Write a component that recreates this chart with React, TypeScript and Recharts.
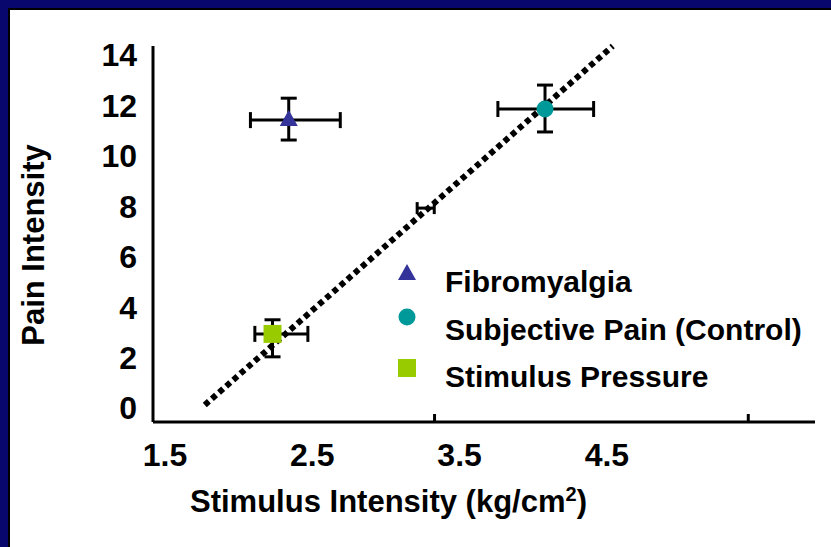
import React from "react";
import { ScatterChart, Scatter, XAxis, YAxis, ErrorBar } from "recharts";

const FONT = '"Liberation Sans", Arial, sans-serif';

// axis ticks
const X_LABEL_TICKS = [1.5, 2.5, 3.5, 4.5];
const X_MARK_TICKS = [3.33, 5.46];
const Y_TICKS = [0, 2, 4, 6, 8, 10, 12, 14];

// series (ex / ey = [low, high] error)
const fibromyalgia = [{ x: 2.34, y: 11.42, ex: [0.26, 0.35], ey: [0.79, 0.87] }];
const subjectivePain = [{ x: 4.08, y: 11.86, ex: [0.32, 0.33], ey: [0.91, 0.95] }];
const stimulusPressure = [{ x: 2.23, y: 2.94, ex: [0.12, 0.24], ey: [0.91, 0.56] }];
const strayBar = [{ x: 3.27, y: 7.93, ex: 0.058 }];
const trend = [
  { x: 1.77, y: 0.12 },
  { x: 4.54, y: 14.36 },
];

const SERIES = [
  { name: "Fibromyalgia", kind: "triangle", color: "#333399" },
  { name: "Subjective Pain (Control)", kind: "circle", color: "#009999" },
  { name: "Stimulus Pressure", kind: "square", color: "#99cc00" },
];
const LEGEND_MARK_DY = [16, 11, 15];

function Marker({ kind, color, cx, cy }: { kind: string; color: string; cx: number; cy: number }) {
  if (kind === "triangle") {
    return <polygon points={`${cx},${cy - 10} ${cx + 9},${cy + 6} ${cx - 9},${cy + 6}`} fill={color} />;
  }
  if (kind === "circle") return <circle cx={cx} cy={cy} r={8.5} fill={color} />;
  return <rect x={cx - 9} y={cy - 9} width={18} height={18} fill={color} />;
}

const XTick = (props: any) => {
  const { x, y, payload } = props;
  if (X_MARK_TICKS.includes(payload.value)) {
    return <line x1={x} x2={x} y1={y - 1} y2={y - 8} stroke="#000" strokeWidth={3} />;
  }
  return (
    <text x={x} y={y + 21} dy="0.72em" textAnchor="middle" fontSize={32} fontWeight="bold" fontFamily={FONT} fill="#000">
      {payload.value}
    </text>
  );
};

const LegendBox = () => (
  <div style={{ position: "absolute", left: 395, top: 258, fontFamily: FONT, fontWeight: "bold", fontSize: 30, color: "#000" }}>
    {SERIES.map((s, i) => (
      <div key={s.name} style={{ position: "relative", height: 47.5, lineHeight: "47px", whiteSpace: "nowrap" }}>
        <svg width={24} height={24} style={{ position: "absolute", left: 0, top: LEGEND_MARK_DY[i] - 12 }}>
          <Marker kind={s.kind} color={s.color} cx={12} cy={12} />
        </svg>
        <span style={{ position: "absolute", left: 50, top: 0 }}>{s.name}</span>
      </div>
    ))}
  </div>
);

export default function App() {
  return (
    <div style={{ position: "absolute", left: 0, top: 0, width: 831, height: 547, background: "#fff", overflow: "hidden" }}>
      <div style={{ position: "absolute", left: 0, top: 0, width: 831, height: 8, background: "#07076e" }} />
      <div style={{ position: "absolute", left: 0, top: 0, width: 8, height: 547, background: "#07076e" }} />
      <div style={{ position: "absolute", left: 8, top: 8, width: 823, height: 2, background: "#000" }} />
      <div style={{ position: "absolute", left: 8, top: 8, width: 2, height: 539, background: "#000" }} />

      <div style={{ position: "absolute", left: 0, top: 0 }}>
        <ScatterChart width={831} height={547} margin={{ top: 46, right: 16, bottom: 95, left: 93 }}>
          <XAxis
            type="number"
            dataKey="x"
            domain={[1.4185, 5.913]}
            ticks={[...X_LABEL_TICKS, ...X_MARK_TICKS]}
            interval={0}
            height={30}
            tickSize={0}
            tickMargin={0}
            tickLine={false}
            axisLine={{ stroke: "#000", strokeWidth: 3 }}
            tick={<XTick />}
          />
          <YAxis
            type="number"
            dataKey="y"
            domain={[-0.555, 14.36]}
            ticks={Y_TICKS}
            interval={0}
            width={60}
            tickSize={0}
            tickMargin={16}
            tickLine={false}
            axisLine={{ stroke: "#000", strokeWidth: 3 }}
            tick={{ fontSize: 32, fontWeight: "bold", fontFamily: FONT, fill: "#000" }}
          />
          <Scatter
            name="trend"
            data={trend}
            legendType="none"
            isAnimationActive={false}
            line={{ stroke: "#000", strokeWidth: 6, strokeDasharray: "5.5 4" }}
            shape={() => null}
          />
          <Scatter name="stray" data={strayBar} legendType="none" isAnimationActive={false} shape={() => null}>
            <ErrorBar dataKey="ex" direction="x" width={6} stroke="#000" strokeWidth={3} isAnimationActive={false} />
          </Scatter>
          {[fibromyalgia, subjectivePain, stimulusPressure].map((data, i) => (
            <Scatter
              key={SERIES[i].name}
              name={SERIES[i].name}
              data={data}
              isAnimationActive={false}
              shape={(p: any) => <Marker kind={SERIES[i].kind} color={SERIES[i].color} cx={p.cx} cy={p.cy} />}
            >
              <ErrorBar dataKey="ex" direction="x" width={8} stroke="#000" strokeWidth={3} isAnimationActive={false} />
              <ErrorBar dataKey="ey" direction="y" width={8} stroke="#000" strokeWidth={3} isAnimationActive={false} />
            </Scatter>
          ))}
        </ScatterChart>
      </div>

      <LegendBox />

      <div
        style={{
          position: "absolute",
          left: 33,
          top: 245,
          width: 260,
          lineHeight: "33px",
          textAlign: "center",
          transform: "translate(-50%, -50%) rotate(-90deg)",
          fontFamily: FONT,
          fontWeight: "bold",
          fontSize: 31,
          whiteSpace: "nowrap",
        }}
      >
        Pain Intensity
      </div>
      <div
        style={{
          position: "absolute",
          left: 190,
          top: 485,
          lineHeight: "33px",
          fontFamily: FONT,
          fontWeight: "bold",
          fontSize: 31,
          whiteSpace: "nowrap",
        }}
      >
        Stimulus Intensity (kg/cm<sup style={{ fontSize: 20, lineHeight: 0 }}>2</sup>)
      </div>
    </div>
  );
}
